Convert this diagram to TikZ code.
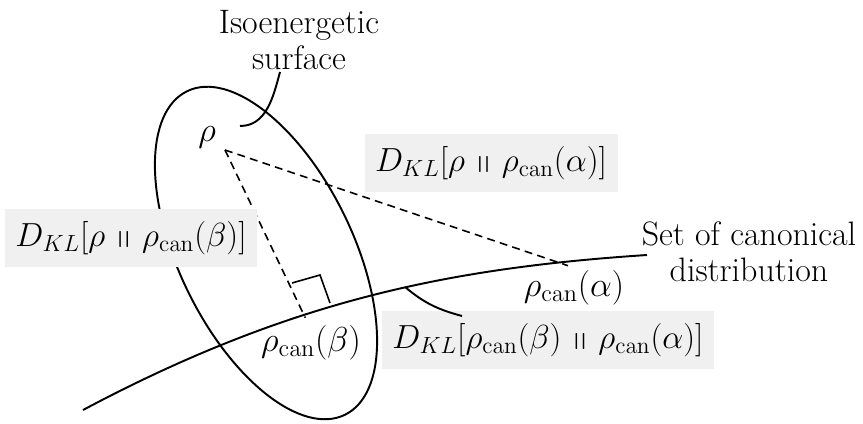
\RequirePackage{fix-cm}
\documentclass[tikz,border=0pt]{standalone}
\usepackage{amsmath,amssymb}
\usepackage{tikz}
\tikzset{
  kl/.style={fill=black!6, inner xsep=6pt, inner ysep=7pt, font=\fontsize{19}{21}\selectfont},
  pt/.style={font=\fontsize{19.7}{21}\selectfont},
  curve/.style={line width=1.1pt},
  guess/.style={line width=0.9pt, dash pattern=on 4.5pt off 3pt},
}
\newcommand{\can}{\rho_{\mathrm{can}}}
\newcommand{\kldiv}{\mathrel{\raisebox{0.08em}{\scalebox{1.1}[0.48]{$\|$}}}}

\begin{document}
\begin{tikzpicture}[x=0.2mm,y=-0.2mm,font=\fontsize{19.3}{20.5}\selectfont]
 \useasboundingbox (0,0) rectangle (863,424);
 % isoenergetic surface and the canonical family
 \draw[curve, shift={(266,253)}, rotate=-64] (0,0) ellipse [x radius=3.6cm, y radius=1.74cm];
 \draw[curve] (83,410) .. controls (290,300) and (450,268) .. (647,255);
 \coordinate (r) at (225,150);
 \coordinate (pa) at (563,264);
 \coordinate (pb) at (303,313);
 \draw[guess, shorten >=-3pt] (r) -- (pa);
 \draw[guess, shorten >=-3pt] (r) -- (pb);
 \draw[line width=0.9pt] (292,283) -- (320,275) -- (330,303);
 % labels
 \node[pt] (rho) at (207,137) {$\rho$};
 \node[pt] (pal) at (574,288) {$\can(\alpha)$};
 \node[pt] (pbl) at (311,343) {$\can(\beta)$};
 \node[kl] (dra) at (491,163) {$D_{KL}[\rho \kldiv \can(\alpha)]$};
 \node[kl] (drb) at (131,238) {$D_{KL}[\rho \kldiv \can(\beta)]$};
 \node[kl] (dba) at (548,340) {$D_{KL}[\can(\beta) \kldiv \can(\alpha)]$};
 \node[align=center] (iso) at (299,40) {Isoenergetic\\surface};
 \node[align=center] (set) at (749,252) {Set of canonical\\distribution};
 % callouts
 \coordinate (isotip) at (280,72);
 \coordinate (isofoot) at (240,126);
 \coordinate (dbatip) at (405,287);
 \coordinate (dbafoot) at (462,316);
 \draw[curve] (isofoot) to[out=0,in=-105] (isotip);
 \draw[curve] (dbatip) to[out=-40,in=165] (dbafoot);
\end{tikzpicture}
\end{document}
